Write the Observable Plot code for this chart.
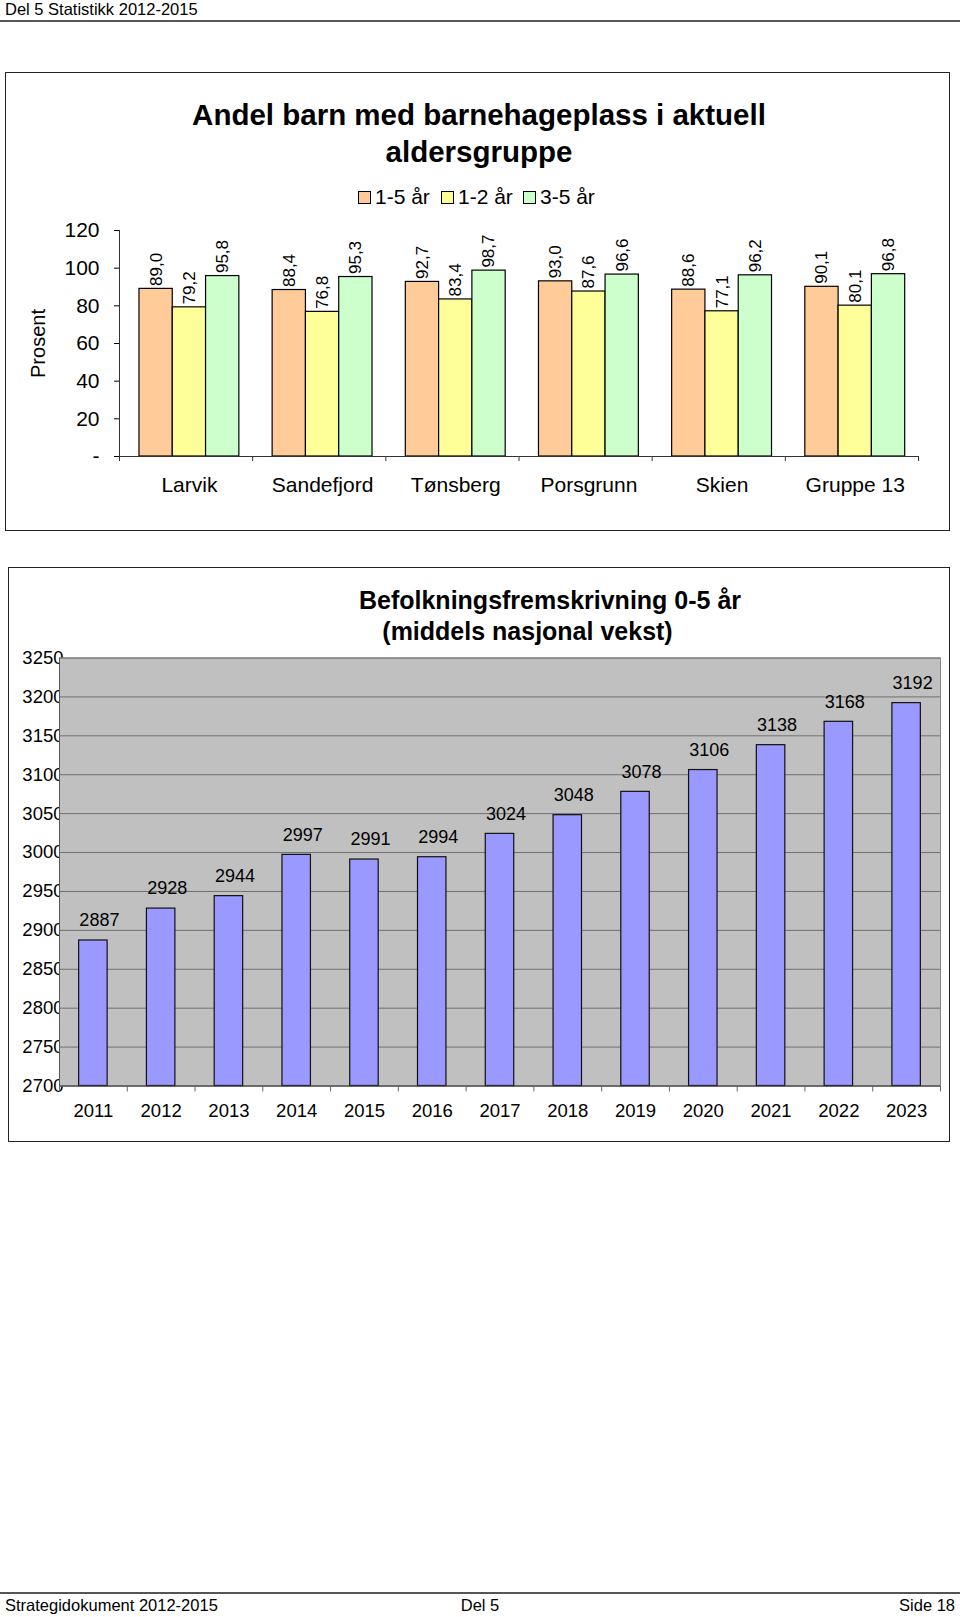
<!DOCTYPE html>
<html>
<head>
<meta charset="utf-8">
<script src="https://cdn.jsdelivr.net/npm/d3@7"></script>
<script src="https://cdn.jsdelivr.net/npm/@observablehq/plot@0.6"></script>
<style>
  body { margin:0; width:960px; height:1617px; position:relative; background:#fff; font-family:"Liberation Sans", Arial, sans-serif; color:#000; overflow:hidden; }
  .abs { position:absolute; }
  .box { position:absolute; border:1px solid #222; box-sizing:border-box; }
  .sw { position:absolute; width:13px; height:13px; border:1.5px solid #000; box-sizing:border-box; }
  .lg { position:absolute; font-size:21px; line-height:24px; white-space:nowrap; }
</style>
</head>
<body>
<div class="abs" style="left:5px;top:0px;font-size:16.5px;line-height:19px;">Del 5 Statistikk 2012-2015</div>
<div class="abs" style="left:0;top:19.5px;width:960px;border-top:2px solid #555;"></div>

<div class="box" style="left:5px;top:72px;width:945px;height:459px;"></div>
<div class="abs" style="left:0;top:96px;width:958px;text-align:center;font-weight:bold;font-size:29.5px;line-height:37px;">Andel barn med barnehageplass i aktuell<br>aldersgruppe</div>
<div id="legend"></div>
<div id="chart1" class="abs" style="left:0;top:215px;"></div>

<div class="box" style="left:8px;top:567px;width:942px;height:575px;"></div>
<div class="abs" style="left:0;top:585px;width:1100px;text-align:center;font-weight:bold;font-size:25px;line-height:30px;">Befolkningsfremskrivning 0-5 år</div>
<div class="abs" style="left:0;top:616px;width:1055px;text-align:center;font-weight:bold;font-size:25px;line-height:30px;">(middels nasjonal vekst)</div>
<div id="chart2" class="abs" style="left:0;top:640px;"></div>

<div class="abs" style="left:0;top:1592px;width:960px;border-top:2px solid #555;"></div>
<div class="abs" style="left:5px;top:1596px;font-size:16.5px;line-height:19px;">Strategidokument 2012-2015</div>
<div class="abs" style="left:0;top:1596px;width:960px;text-align:center;font-size:16.5px;line-height:19px;">Del 5</div>
<div class="abs" style="right:5px;top:1596px;font-size:16.5px;line-height:19px;">Side 18</div>

<script>
// ---- Chart 1 data ----
const groups = ["Larvik", "Sandefjord", "Tønsberg", "Porsgrunn", "Skien", "Gruppe 13"];
const series = ["1-5 år", "1-2 år", "3-5 år"];
const v15 = [89.0, 88.4, 92.7, 93.0, 88.6, 90.1];
const v12 = [79.2, 76.8, 83.4, 87.6, 77.1, 80.1];
const v35 = [95.8, 95.3, 98.7, 96.6, 96.2, 96.8];
const seriesColors = ["#FFCC99", "#FFFF99", "#CCFFCC"];
const pctTicks = [0, 20, 40, 60, 80, 100, 120];

// ---- Chart 2 data ----
const years = ["2011", "2012", "2013", "2014", "2015", "2016", "2017", "2018", "2019", "2020", "2021", "2022", "2023"];
const pop = [2887, 2928, 2944, 2997, 2991, 2994, 3024, 3048, 3078, 3106, 3138, 3168, 3192];
const popTicks = [2700, 2750, 2800, 2850, 2900, 2950, 3000, 3050, 3100, 3150, 3200, 3250];

// legend
const legendPos = [[358, 375], [441, 458], [523, 540]];
const lg = document.getElementById("legend");
series.forEach((s, i) => {
  const sw = document.createElement("div");
  sw.className = "sw";
  sw.style.left = legendPos[i][0] + "px";
  sw.style.top = "191px";
  sw.style.background = seriesColors[i];
  lg.appendChild(sw);
  const t = document.createElement("div");
  t.className = "lg";
  t.style.left = legendPos[i][1] + "px";
  t.style.top = "185px";
  t.textContent = s;
  lg.appendChild(t);
});

const rows = groups.flatMap((g, i) => series.map((s, j) => ({group: g, series: s, value: [v15, v12, v35][j][i]})));
const fmt1 = v => v.toFixed(1).replace(".", ",");

const W1 = 960, ML1 = 119, MR1 = 42, ALIGN1 = 0.6;
const step1 = (W1 - ML1 - MR1) / groups.length / 4;

const c1 = Plot.plot({
  width: W1, height: 290,
  marginLeft: ML1, marginRight: MR1, marginTop: 15, marginBottom: 49,
  style: {fontFamily: "Liberation Sans, Arial, sans-serif", fontSize: "21px", color: "#000", background: "transparent", overflow: "visible"},
  fx: {domain: groups, padding: 0, round: false, label: null, axis: null},
  x: {domain: series, paddingInner: 0, paddingOuter: 0.5, align: ALIGN1, round: false, axis: null},
  y: {domain: [0, 120], ticks: pctTicks, tickSize: 5, tickPadding: 15, label: null,
      tickFormat: d => d === 0 ? "-" : String(d)},
  color: {domain: series, range: seriesColors},
  marks: [
    Plot.barY(rows, {fx: "group", x: "series", y: "value", fill: "series", stroke: "#000", strokeWidth: 1.2}),
    Plot.text(rows, {fx: "group", x: "series", y: "value", text: d => fmt1(d.value), rotate: -90, textAnchor: "start", dy: -3, fontSize: 17}),
    Plot.ruleY([0], {stroke: "#333"}),
    Plot.ruleX([groups[0]], {fx: d => d, x: () => series[0], dx: -step1 * (0.5 + ALIGN1), y1: 0, y2: 120, stroke: "#333"}),
    Plot.ruleX(groups, {fx: d => d, x: () => series[0], dx: -step1 * (0.5 + ALIGN1), y1: 0, y2: 0, insetBottom: -5, stroke: "#333"}),
    Plot.ruleX([groups[groups.length - 1]], {fx: d => d, x: () => series[2], dx: step1 * (1.5 - ALIGN1), y1: 0, y2: 0, insetBottom: -5, stroke: "#333"}),
    Plot.text(groups, {fx: d => d, x: () => series[1], y: () => 0, text: d => d, dy: 29, fontSize: 21}),
    Plot.text([groups[0]], {fx: d => d, x: () => series[0], dx: -step1 * (0.5 + ALIGN1) - 81, textAnchor: "middle", y: () => 60, text: () => "Prosent", rotate: -90, fontSize: 20})
  ]
});
document.getElementById("chart1").appendChild(c1);

// ---- Chart 2 ----
const popRows = years.map((y, i) => ({year: y, value: pop[i]}));
const W2 = 960, ML2 = 59, MR2 = 20;
const step2 = (W2 - ML2 - MR2) / years.length;

const c2 = Plot.plot({
  width: W2, height: 490,
  marginLeft: ML2, marginRight: MR2, marginTop: 17.5, marginBottom: 44.5,
  style: {fontFamily: "Liberation Sans, Arial, sans-serif", fontSize: "18.5px", color: "#000", background: "transparent", overflow: "visible"},
  x: {domain: years, paddingInner: 0.58, paddingOuter: 0.29, round: false, tickSize: 0, tickPadding: 18, label: null},
  y: {domain: [2700, 3250], ticks: popTicks, tickSize: 0, tickPadding: -4, label: null, tickFormat: d => String(d)},
  marks: [
    Plot.frame({fill: "#C0C0C0", stroke: "#8a8a8a"}),
    Plot.ruleY(popTicks, {stroke: "#707070"}),
    Plot.barY(popRows, {x: "year", y1: 2700, y2: "value", fill: "#9999FF", stroke: "#111", strokeWidth: 1.2}),
    Plot.text(popRows, {x: "year", y: "value", text: d => String(d.value), dy: -20, dx: 6, fontSize: 18}),
    Plot.ruleY([2700], {stroke: "#444"}),
    Plot.ruleX([years[0]], {x: d => d, dx: -step2 / 2, y1: 2700, y2: 3250, stroke: "#555"}),
    Plot.ruleX(years, {x: d => d, dx: -step2 / 2, y1: 2700, y2: 2700, insetBottom: -6, stroke: "#666"}),
    Plot.ruleX([years[years.length - 1]], {x: d => d, dx: step2 / 2, y1: 2700, y2: 2700, insetBottom: -6, stroke: "#666"})
  ]
});
document.getElementById("chart2").appendChild(c2);
</script>
</body>
</html>
